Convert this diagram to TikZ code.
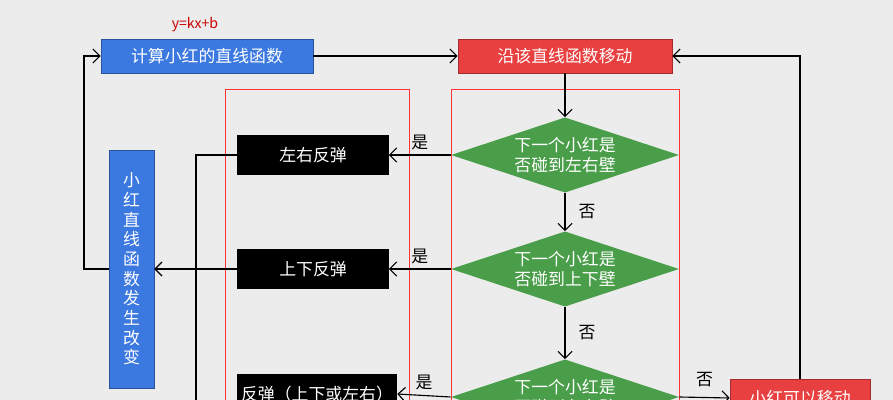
\documentclass[tikz,border=0pt]{standalone}
\usepackage{fontspec}
\setmainfont{Noto Sans CJK SC}
\usetikzlibrary{positioning,arrows.meta,shapes.geometric}
\definecolor{bgGray}{HTML}{ECECEC}
\definecolor{calcBlue}{HTML}{3B78E0}
\definecolor{moveRed}{HTML}{E84040}
\definecolor{testGreen}{HTML}{4A9E4A}
\begin{document}
\begin{tikzpicture}[x=0.025cm, y=-0.025cm,
  blue box/.style={rectangle, fill=calcBlue, draw=calcBlue!70!black, text=white,
              minimum width=5.3cm, minimum height=0.85cm, font=\large, inner sep=0pt},
  red box/.style={rectangle, fill=moveRed, draw=moveRed!70!black, text=white,
              minimum width=5.35cm, minimum height=0.85cm, font=\large, inner sep=0pt},
  black box/.style={rectangle, fill=black, text=white, minimum width=3.78cm,
              minimum height=0.98cm, font=\large, inner sep=0pt},
  test/.style={diamond, aspect=3.1, fill=testGreen, text=white, inner sep=0pt,
              minimum width=5.7cm, minimum height=1.88cm, align=center, font=\large},
  lbl/.style={font=\large},
  arr/.style={-{Straight Barb[length=5pt]}, thick},
  ln/.style={thick}]
  \useasboundingbox (0,0) rectangle (893,400);
  \clip (0,0) rectangle (893,400);
  \fill[bgGray] (0,0) rectangle (893,400);
  % group frames
  \draw[red!80] (225,89) rectangle (409,420);
  \draw[red!80] (451,89) rectangle (679,440);
  % nodes
  \node[text=red!80!black] (fn) at (195,25) {y=kx+b};
  \node[blue box] (calc) at (207,56) {计算小红的直线函数};
  \node[red box] (move) at (565,56) {沿该直线函数移动};
  \node[test] (lr) at (565,155) {下一个小红是\\否碰到左右壁};
  \node[test] (ud) at (565,269) {下一个小红是\\否碰到上下壁};
  \node[test] (any) at (565,397) {下一个小红是\\否碰到左右壁};
  \node[black box] (bLR) at (313,155) {左右反弹};
  \node[black box] (bUD) at (313,269) {上下反弹};
  \node[black box, minimum width=4cm] (bAny) at (317,394) {反弹（上下或左右）};
  \node[rectangle, fill=calcBlue, draw=calcBlue!70!black, text=white,
        minimum width=1.12cm, minimum height=5.95cm, align=center, font=\large,
        inner sep=0pt] (change) at (131.5,269) {小\\红\\直\\线\\函\\数\\发\\生\\改\\变};
  \node[rectangle, fill=moveRed, draw=moveRed!70!black, text=white,
        minimum width=3.5cm, minimum height=0.95cm, font=\large] (can) at (800,398) {小红可以移动};
  % connectors
  \draw[arr] (calc) -- (move);
  \draw[arr] (move) -- (lr);
  \draw[arr] (lr) -- node[lbl, right=6pt] {否} (ud);
  \draw[arr] (ud) -- node[lbl, right=6pt] {否} (any);
  \draw[arr] (lr.west) -- node[lbl, above] {是} (bLR);
  \draw[arr] (ud.west) -- node[lbl, above] {是} (bUD);
  \draw[arr] (any.west) -- node[lbl, above] {是} (bAny.east);
  \draw[arr] (any.east) -- node[lbl, above=4pt] {否} (can.west);
  \draw[arr] (can.north) |- (move.east);
  \draw[ln] (bLR.west) -| (196,420);
  \draw[arr] (bUD.west) -- (change.east);
  \draw[arr] (change.west) -- (84,269) |- (calc.west);
\end{tikzpicture}
\end{document}
